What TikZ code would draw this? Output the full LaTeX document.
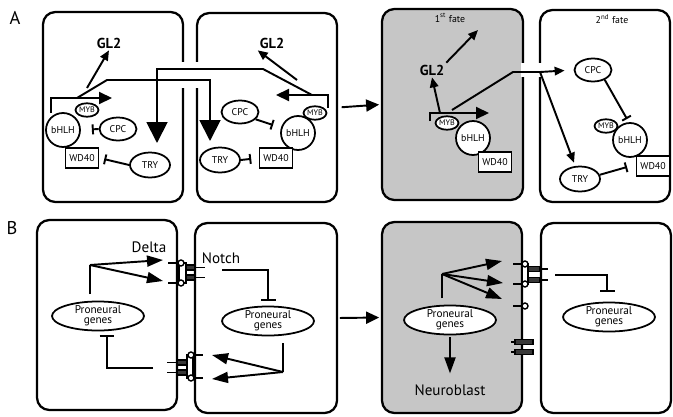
\documentclass[tikz,border=0pt]{standalone}
\usepackage{fontspec}
\setmainfont{PT Sans}
\usepackage{tikz}
\usetikzlibrary{shapes.geometric, arrows.meta}

\definecolor{cellgray}{RGB}{198,198,198}
\definecolor{notchgray}{RGB}{55,55,55}

\tikzset{
    cell/.style={draw, line width=1.3pt, rounded corners=7pt, inner sep=0pt},
    gap/.style={white, line width=2.4pt},
    oval/.style={draw, ellipse, fill=white, line width=1pt, inner sep=0pt, minimum width=0.74cm, minimum height=0.46cm, font=\fontsize{5.6}{6}\selectfont},
    trybox/.style={oval, minimum width=0.8cm, minimum height=0.5cm},
    myb/.style={oval, minimum width=0.46cm, minimum height=0.27cm, font=\fontsize{4.6}{5}\selectfont},
    ball/.style={draw, circle, fill=white, line width=1pt, inner sep=0pt, minimum size=0.68cm, font=\fontsize{5.6}{6}\selectfont},
    wdbox/.style={draw, rectangle, fill=white, line width=1pt, inner sep=0pt, minimum width=0.66cm, minimum height=0.4cm, font=\fontsize{5.6}{6}\selectfont},
    pro/.style={oval, minimum width=1.84cm, minimum height=0.56cm, align=center, font=\fontsize{6.4}{5.8}\selectfont},
    gl/.style={font=\fontsize{8.2}{9}\selectfont\bfseries, inner sep=1pt},
    word/.style={font=\fontsize{8.6}{9}\selectfont, inner sep=1pt},
    fate/.style={font=\fontsize{5.6}{6}\selectfont},
    panel/.style={font=\fontsize{10.5}{11}\selectfont},
    link/.style={line width=1.1pt},
    arr/.style={link, -{Triangle[length=0.2cm,width=0.17cm]}},
    midarr/.style={link, -{Triangle[length=0.26cm,width=0.24cm]}},
    bigarr/.style={link, -{Triangle[length=0.42cm,width=0.42cm]}},
    brk/.style={line width=1.2pt, -{Triangle[length=0.26cm,width=0.24cm]}},
    inh/.style={link, -{Bar[width=0.2cm]}},
    inhb/.style={link, -{Bar[width=0.3cm]}},
    barr/.style={link, -{Triangle[length=0.32cm,width=0.22cm]}},
    dlig/.style={fill=white, line width=0.8pt},
    notch/.style={fill=notchgray, line width=0.6pt},
}

\begin{document}
\begin{tikzpicture}[x=0.02cm, y=-0.02cm]
    \useasboundingbox (0,0) rectangle (673,416);

    \node[cell, minimum width=2.8cm, minimum height=3.8cm] (cA1) at (113,107) {};
    \node[cell, minimum width=2.8cm, minimum height=3.78cm] (cA2) at (267,107.5) {};
    \node[cell, fill=cellgray, minimum width=2.82cm, minimum height=3.82cm] (cA3) at (452.5,104.5) {};
    \node[cell, minimum width=2.6cm, minimum height=3.84cm] (cA4) at (605,106) {};
    \node[cell, minimum width=2.8cm, minimum height=3.8cm] (cB1) at (107,315) {};
    \node[cell, minimum width=2.84cm, minimum height=3.8cm] (cB2) at (266,318) {};
    \node[cell, fill=cellgray, minimum width=2.8cm, minimum height=3.82cm] (cB3) at (452,317.5) {};
    \node[cell, minimum width=2.6cm, minimum height=3.8cm] (cB4) at (606,318) {};

    \draw[gap] (183,62) -- (183,88);
    \draw[gap] (197,62) -- (197,88);
    \draw[gap] (523,63) -- (523,77);
    \draw[gap] (540,63) -- (540,77);

    \node[panel] (lA) at (15,18) {A};
    \node[panel] (lB) at (12,228) {B};

    % panel A
    \node[gl] (glA) at (109,43) {GL2};
    \node[ball] (bhlhA) at (63,130) {bHLH};
    \node[myb] (mybA) at (87,110) {MYB};
    \node[oval] (cpcA) at (118,129) {CPC};
    \node[wdbox] (wdA) at (82,158) {WD40};
    \node[trybox] (tryA) at (150,165) {TRY};

    \node[gl] (glB) at (272,43) {GL2};
    \node[oval] (cpcB) at (240,112) {CPC};
    \node[ball] (bhlhB) at (298,133) {bHLH};
    \node[myb] (mybB) at (315,113) {MYB};
    \node[wdbox] (wdB) at (276,158) {WD40};
    \node[trybox] (tryB) at (220,160) {TRY};

    \node[fate] (f1) at (450,18) {1\textsuperscript{st} fate};
    \node[gl] (glC) at (432,70) {GL2};
    \node[ball] (bhlhC) at (473,138) {bHLH};
    \node[myb] (mybC) at (447,123) {MYB};
    \node[wdbox] (wdC) at (495,162) {WD40};

    \node[fate] (f2) at (612,19) {2\textsuperscript{nd} fate};
    \node[oval] (cpcD) at (593,70) {CPC};
    \node[ball] (bhlhD) at (630,140) {bHLH};
    \node[myb] (mybD) at (606,126) {MYB};
    \node[wdbox] (wdD) at (653,166) {WD40};
    \node[trybox] (tryD) at (580,179) {TRY};

    \coordinate (bA) at (51,113);
    \coordinate (tA) at (112,98);
    \coordinate (gA) at (87,88);
    \draw[brk] (bA) |- (tA);
    \draw[arr] (gA) -- (glA.south);
    \draw[inh, shorten >=0.22cm] (cpcA.west) -- (bhlhA.east);
    \draw[inh, shorten >=0.1cm] (tryA.west) -- (wdA.east);

    \coordinate (bB) at (328,108);
    \coordinate (tB) at (276,95);
    \coordinate (gB) at (297,80);
    \coordinate (hB) at (273,125);
    \draw[brk] (bB) |- (tB);
    \draw[arr] (gB) -- (glB.south west);
    \draw[inh] (cpcB.-25) -- (hB);
    \draw[inh, shorten >=0.15cm] (tryB.east) -- (wdB.west);

    \coordinate (l1a) at (77,98);
    \coordinate (l1b) at (107,80);
    \coordinate (l1c) at (210,80);
    \coordinate (l1d) at (210,141);
    \draw[bigarr] (l1a) -- (l1b) -- (l1c) -- (l1d);

    \coordinate (l2a) at (312,95);
    \coordinate (l2b) at (263,69);
    \coordinate (l2c) at (157,69);
    \coordinate (l2d) at (157,143);
    \draw[bigarr] (l2a) -- (l2b) -- (l2c) -- (l2d);

    \draw[midarr, shorten <=2pt, shorten >=1pt] (cA2.east) -- (cA3.west);

    \coordinate (bC) at (430,121);
    \coordinate (tC) at (489,113);
    \coordinate (gC) at (440,113);
    \coordinate (fC) at (478,30);
    \draw[brk] (bC) |- (tC);
    \draw[arr] (gC) -- (glC.south);
    \draw[arr] (glC.north east) -- (fC);

    \coordinate (sC) at (452,110);
    \coordinate (kC) at (513,72);
    \coordinate (jC) at (540,72);
    \draw[link] (sC) -- (kC) -- (jC);
    \draw[arr, shorten >=0.18cm] (jC) -- (cpcD.west);
    \draw[arr, shorten >=2pt] (jC) -- (tryD.110);

    \coordinate (hD) at (627,119);
    \coordinate (hD2) at (627,167);
    \draw[inh] (cpcD.-40) -- (hD);
    \draw[inh] (tryD.12) -- (hD2);

    % panel B
    \node[word] (delta) at (149,247) {Delta};
    \node[word] (notch) at (221,258) {Notch};
    \node[word] (nb) at (450,390) {Neuroblast};
    \node[pro] (pnA) at (98,316) {Proneural\\genes};
    \node[pro] (pnB) at (268,321) {Proneural\\genes};
    \node[pro] (pnC) at (450,320) {Proneural\\genes};
    \node[pro] (pnD) at (609,317) {Proneural\\genes};

    \draw[dlig] (179,263) rectangle (186,283);
    \draw[link] (168,263) -- (179,263);
    \draw[link] (168,283) -- (179,283);
    \draw[dlig] (181,263) circle (0.06cm);
    \draw[dlig] (181,283) circle (0.06cm);
    \draw[notch] (186,265) rectangle (195,270);
    \draw[notch] (186,275) rectangle (195,280);
    \draw[link] (195,267.5) -- (205,267.5);
    \draw[link] (195,277.5) -- (205,277.5);

    \draw[dlig] (187,355) rectangle (193,378);
    \draw[notch] (177,360) rectangle (187,365);
    \draw[notch] (177,370) rectangle (187,375);
    \draw[link] (167,362.5) -- (177,362.5);
    \draw[link] (167,372.5) -- (177,372.5);
    \draw[link] (194,355) -- (203,355);
    \draw[link] (194,378) -- (203,378);
    \draw[dlig] (191,355) circle (0.06cm);
    \draw[dlig] (191,378) circle (0.06cm);

    \draw[dlig] (522,264) rectangle (528,284);
    \draw[link] (513,264) -- (522,264);
    \draw[link] (513,284) -- (522,284);
    \draw[link] (513,306) -- (522,306);
    \draw[dlig] (525,264) circle (0.06cm);
    \draw[dlig] (525,284) circle (0.06cm);
    \draw[dlig] (525,306) circle (0.06cm);
    \draw[notch] (528,266.5) rectangle (540,271.5);
    \draw[notch] (528,277.5) rectangle (540,282.5);
    \draw[link] (540,269) -- (548,269);
    \draw[link] (540,280) -- (548,280);
    \draw[notch] (515,339.5) rectangle (533,344.5);
    \draw[notch] (515,349.5) rectangle (533,354.5);
    \draw[link] (511,342) -- (515,342);
    \draw[link] (511,352) -- (515,352);

    \coordinate (sB1) at (90,294);
    \coordinate (jB1) at (90,265);
    \coordinate (dA) at (163,260);
    \coordinate (dB) at (163,281);
    \draw[link] (sB1) -- (jB1);
    \draw[barr] (jB1) -- (dA);
    \draw[barr] (jB1) -- (dB);
    \coordinate (nB1) at (153,368);
    \coordinate (hB1) at (107,335);
    \draw[inhb] (nB1) -| (hB1);

    \coordinate (nB2) at (222,270);
    \coordinate (hB2) at (268,301);
    \draw[inhb] (nB2) -| (hB2);
    \coordinate (sB2) at (283,343);
    \coordinate (jB2) at (283,372);
    \coordinate (dC) at (212,355);
    \coordinate (dD) at (212,379);
    \draw[link] (sB2) -- (jB2);
    \draw[barr] (jB2) -- (dC);
    \draw[barr] (jB2) -- (dD);

    \draw[midarr, shorten <=1pt, shorten >=1pt] (cB2.east) -- (cB3.west);

    \coordinate (sB3) at (442,298);
    \coordinate (jB3) at (442,274);
    \coordinate (dE) at (502,261);
    \coordinate (dF) at (503,283);
    \coordinate (dG) at (502,299);
    \draw[link] (sB3) -- (jB3);
    \draw[barr] (jB3) -- (dE);
    \draw[barr] (jB3) -- (dF);
    \draw[barr] (jB3) -- (dG);
    \draw[barr, shorten <=1pt, shorten >=0.18cm] (pnC.south) -- (nb.north);

    \coordinate (nB4) at (555,275);
    \coordinate (hB4) at (607,292);
    \draw[inhb] (nB4) -| (hB4);

\end{tikzpicture}
\end{document}
